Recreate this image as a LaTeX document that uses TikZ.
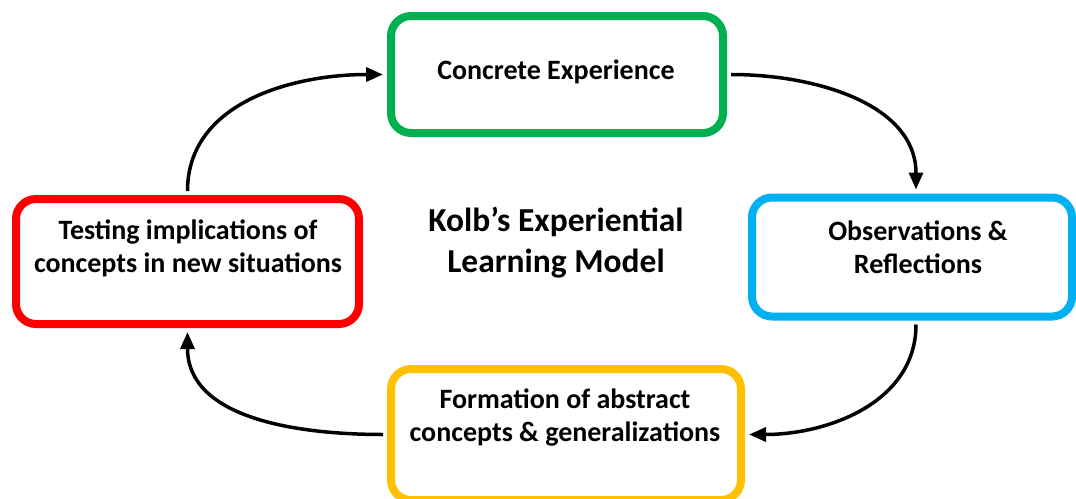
\documentclass[tikz,border=0pt]{standalone}
\usepackage{fontspec}
\setmainfont{Carlito}
\usetikzlibrary{arrows.meta}
\definecolor{cgreen}{HTML}{00B050}
\definecolor{cblue}{HTML}{00B0F0}
\definecolor{cyellow}{HTML}{FFC000}
\definecolor{cred}{HTML}{FF0000}
\tikzset{
  stagebox/.style={draw=#1, line width=8pt, rounded corners=20pt, fill=white, inner sep=0pt},
  stagetext/.style={font=\fontsize{28}{33}\selectfont\bfseries, align=center, inner sep=0pt},
  flow/.style={line width=3.5pt, -{Triangle[length=17pt,width=14pt]}},
}
\begin{document}
\begin{tikzpicture}[x=1pt,y=1pt]
\useasboundingbox (0,0) rectangle (1076,-498);
\node[stagebox=cgreen, minimum width=332pt, minimum height=117pt] (ce) at (557,-74.5) {};
\node[stagebox=cblue, minimum width=320pt, minimum height=119pt] (ob) at (912,-257) {};
\node[stagebox=cyellow, minimum width=350pt, minimum height=131pt] (fa) at (566,-434.5) {};
\node[stagebox=cred, minimum width=343pt, minimum height=125pt] (te) at (187.5,-261.5) {};
\node[stagetext] (cet) at (556,-72) {Concrete Experience};
\node[stagetext] (obt) at (918,-247) {Observations \&\\Reflections};
\node[stagetext] (fat) at (565,-418) {Formation of abstract\\concepts \& generalizations};
\node[stagetext] (tet) at (188,-248.5) {Testing implications of\\concepts in new situations};
\node[font=\fontsize{33.5}{41}\selectfont\bfseries, align=center, inner sep=0pt] (title) at (556,-242.5) {Kolb’s Experiential\\Learning Model};
\draw[flow] ([yshift=4pt]te.north) to[out=90,in=180] ([xshift=-4pt]ce.west);
\draw[flow] ([xshift=4pt]ce.east) to[out=0,in=90] ([xshift=4pt,yshift=4pt]ob.north);
\draw[flow] ([xshift=4pt,yshift=-4pt]ob.south) to[out=-90,in=0] ([xshift=4pt]fa.east);
\draw[flow] ([xshift=-4pt]fa.west) to[out=180,in=-90] ([yshift=-4pt]te.south);
\end{tikzpicture}
\end{document}
